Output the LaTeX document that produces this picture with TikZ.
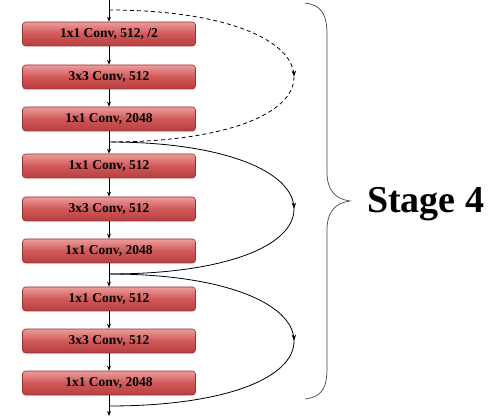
\documentclass[tikz,border=0pt]{standalone}
\usepackage{fontspec}
\setmainfont{Liberation Serif}
\usetikzlibrary{arrows.meta,decorations.markings}
\definecolor{boxtop}{RGB}{236,156,156}
\definecolor{boxmid}{RGB}{208,88,88}
\definecolor{boxbot}{RGB}{184,62,62}
\definecolor{boxedge}{RGB}{150,50,50}
\definecolor{bracec}{RGB}{70,70,70}
\tikzset{
  x=1pt, y=-1pt,
  convbox/.style={rectangle, rounded corners=3pt, draw=boxedge, line width=0.6pt,
    top color=boxtop, bottom color=boxbot, middle color=boxmid,
    minimum width=173pt, minimum height=24pt, inner sep=0pt,
    font=\bfseries\fontsize{13.5}{14}\selectfont, text=black},
  flow/.style={line width=0.8pt, -{Stealth[length=5pt,width=4pt]}},
  skip/.style={line width=0.8pt, decoration={markings, mark=at position 0.5 with {\arrow{Stealth[length=6pt,width=4.5pt]}}}, postaction={decorate}},
}
\begin{document}
\begin{tikzpicture}
\useasboundingbox (0,0) rectangle (488,417);
\fill[white] (0,0) rectangle (488,417);
\coordinate (top) at (109,0);
\coordinate (j0) at (109,10);
\node[convbox] (b1) at (109,34) {1x1 Conv, 512, /2};
\node[convbox] (b2) at (109,77) {3x3 Conv, 512};
\node[convbox] (b3) at (109,119) {1x1 Conv, 2048};
\coordinate (j1) at (109,142);
\node[convbox] (b4) at (109,166) {1x1 Conv, 512};
\node[convbox] (b5) at (109,209) {3x3 Conv, 512};
\node[convbox] (b6) at (109,251) {1x1 Conv, 2048};
\coordinate (j2) at (109,274);
\node[convbox] (b7) at (109,299) {1x1 Conv, 512};
\node[convbox] (b8) at (109,341) {3x3 Conv, 512};
\node[convbox] (b9) at (109,383) {1x1 Conv, 2048};
\coordinate (j3) at (109,406);
\coordinate (bot) at (109,416);
% main flow
\draw[flow] (top) -- (b1.north);
\draw[flow] (b1.south) -- (b2.north);
\draw[flow] (b2.south) -- (b3.north);
\draw[flow] (b3.south) -- (b4.north);
\draw[flow] (b4.south) -- (b5.north);
\draw[flow] (b5.south) -- (b6.north);
\draw[flow] (b6.south) -- (b7.north);
\draw[flow] (b7.south) -- (b8.north);
\draw[flow] (b8.south) -- (b9.north);
\draw[flow] (b9.south) -- (bot);
% shortcuts
\draw[skip, dashed, dash pattern=on 4pt off 3pt] (j0) .. controls (225,10) and (294,40) .. (294,77) .. controls (294,114) and (225,142) .. (j1);
\draw[skip] (j1) .. controls (225,142) and (294,172) .. (294,209) .. controls (294,246) and (225,274) .. (j2);
\draw[skip] (j2) .. controls (225,274) and (294,304) .. (294,341) .. controls (294,378) and (225,406) .. (j3);
% brace
\draw[bracec, line width=0.7pt] (305,3) .. controls (322,5) and (327,15) .. (327,35)
  -- (327,172) .. controls (327,190) and (335,199) .. (350,201)
  .. controls (335,203) and (327,212) .. (327,230)
  -- (327,368) .. controls (327,388) and (322,397) .. (305,399);
\node[font=\bfseries\fontsize{38}{40}\selectfont, anchor=base west, inner sep=0pt] (stage) at (367,213) {Stage 4};
\end{tikzpicture}
\end{document}
